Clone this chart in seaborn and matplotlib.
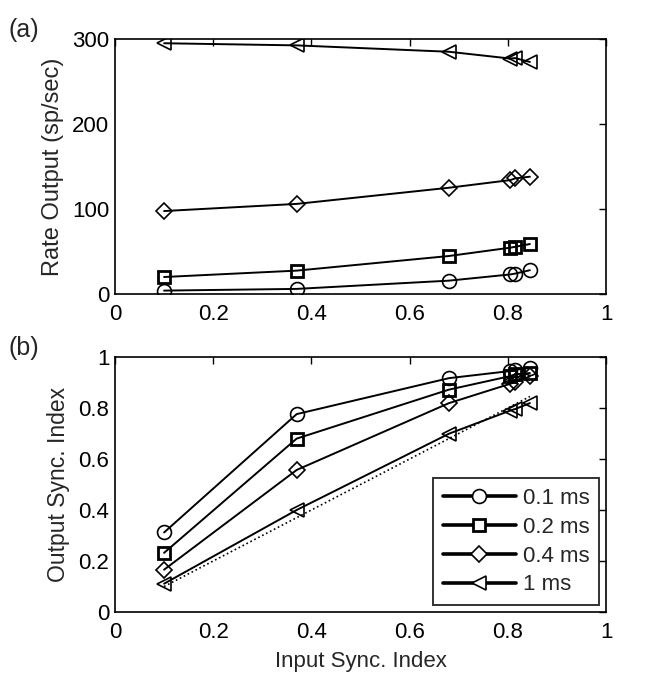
import numpy as np
import pandas as pd
import matplotlib
matplotlib.use("Agg")
import matplotlib.pyplot as plt
import seaborn as sns

# input sync index values (x axis)
input_sync = [0.10, 0.37, 0.68, 0.805, 0.815, 0.845]
labels = ["0.1 ms", "0.2 ms", "0.4 ms", "1 ms"]
markers = ["o", "s", "D", "<"]

# panel (a): output rate (sp/sec)
rate_01 = [4, 6, 15.7, 23, 24, 28]
rate_02 = [20, 27.5, 44.7, 54.5, 55.5, 58.8]
rate_04 = [97.6, 106, 125, 134, 136, 138]
rate_1 = [295, 292.5, 285, 277, 277.5, 273]

# panel (b): output sync index
sync_01 = [0.312, 0.776, 0.917, 0.945, 0.95, 0.957]
sync_02 = [0.232, 0.680, 0.872, 0.925, 0.932, 0.937]
sync_04 = [0.166, 0.557, 0.819, 0.895, 0.902, 0.924]
sync_1 = [0.111, 0.400, 0.699, 0.79, 0.796, 0.819]

rates = [rate_01, rate_02, rate_04, rate_1]
syncs = [sync_01, sync_02, sync_04, sync_1]

rows = []
for lab, r, s in zip(labels, rates, syncs):
    for x, rv, sv in zip(input_sync, r, s):
        rows.append({"input": x, "rate": rv, "sync": sv, "width": lab})
df = pd.DataFrame(rows)

sns.set_style("white")
plt.rcParams["font.family"] = ["Liberation Sans", "DejaVu Sans"]

fig = plt.figure(figsize=(6.62, 6.88), dpi=100)
ax1 = fig.add_axes([115 / 662, 1 - 294 / 688, 491 / 662, 255 / 688])
ax2 = fig.add_axes([115 / 662, 1 - 612 / 688, 491 / 662, 255 / 688])

msizes = {"o": 10, "s": 8, "D": 8, "<": 10}
mwidths = {"o": 1.2, "s": 2.0, "D": 1.2, "<": 1.2}
for ax, col in [(ax1, "rate"), (ax2, "sync")]:
    for lab, m in zip(labels, markers):
        sub = df[df["width"] == lab]
        sns.lineplot(data=sub, x="input", y=col, ax=ax, color="black", lw=1.4,
                     marker=m, markersize=msizes[m], markerfacecolor="none",
                     markeredgecolor="black", markeredgewidth=mwidths[m],
                     estimator=None, sort=False, legend=False)

# diagonal reference line in panel (b)
ax2.plot([input_sync[0], input_sync[-1]], [input_sync[0], input_sync[-1]],
         color="black", ls=":", lw=1.2)

ax1.set_xlim(0, 1)
ax1.set_ylim(0, 300)
ax1.set_yticks([0, 100, 200, 300])
ax2.set_xlim(0, 1)
ax2.set_ylim(0, 1)
ax2.set_yticks([0, 0.2, 0.4, 0.6, 0.8, 1])
ax2.set_yticklabels(["0", "0.2", "0.4", "0.6", "0.8", "1"])
for ax in (ax1, ax2):
    ax.set_xticks([0, 0.2, 0.4, 0.6, 0.8, 1])
    ax.set_xticklabels(["0", "0.2", "0.4", "0.6", "0.8", "1"])
    ax.tick_params(direction="in", top=True, right=True, length=5, width=1,
                   labelsize=16, colors="black")
    ax.tick_params(axis="x", pad=7)
    ax.tick_params(axis="y", pad=4)
    for sp in ax.spines.values():
        sp.set_color("black")
        sp.set_linewidth(1.2)

ax1.set_xlabel("")
ax1.set_ylabel("Rate Output (sp/sec)", fontsize=17, labelpad=6)
ax2.set_xlabel("Input Sync. Index", fontsize=16, labelpad=6)
ax2.set_ylabel("Output Sync. Index", fontsize=16.5, labelpad=6)

fig.text(8 / 662, 1 - 30 / 688, "(a)", fontsize=18, va="center")
fig.text(8 / 662, 1 - 348 / 688, "(b)", fontsize=18, va="center")

handles = [plt.Line2D([], [], color="black", lw=2.6, marker=m, markersize=msizes[m],
                      markerfacecolor="white", markeredgecolor="black",
                      markeredgewidth=mwidths[m])
           for m in markers]
leg = ax2.legend(handles, labels, loc="lower right", frameon=True, fancybox=False,
                 edgecolor="black", fontsize=16, handlelength=3.3, borderpad=0.45,
                 labelspacing=0.35, handletextpad=0.3, borderaxespad=0.3)
leg.get_frame().set_linewidth(1.4)

fig.savefig("out.png", dpi=100)
